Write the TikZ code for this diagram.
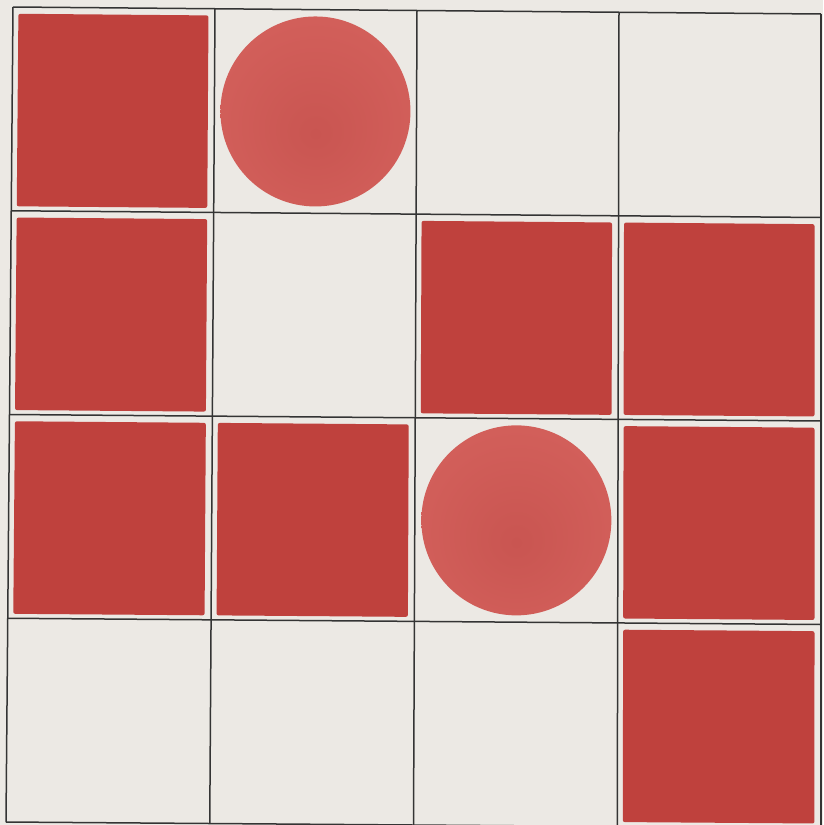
\documentclass[tikz,border=0pt]{standalone}
\definecolor{paper}{RGB}{236,233,228}
\definecolor{sqred}{RGB}{191,65,61}
\definecolor{discin}{RGB}{201,85,81}
\definecolor{discmid}{RGB}{211,96,91}
\definecolor{discout}{RGB}{222,112,105}
\definecolor{gridc}{RGB}{52,52,52}
\pgfdeclareradialshading{discshade}{\pgfpoint{0bp}{-6bp}}{color(0bp)=(discin); color(30bp)=(discmid); color(50bp)=(discout)}
\begin{document}
\begin{tikzpicture}[x=1pt,y=-1pt,
  declare function={
    px(\u,\v)=(1-\v/4)*(13+202*\u)+(\v/4)*(6+203.75*\u);
    py(\u,\v)=(1-\u/4)*(7+203.75*\v)+(\u/4)*(14+203.5*\v);
  },
  gridline/.style={draw=gridc,line width=1.5pt},
  redsquare/.style={fill=sqred,rounded corners=2pt},
  reddisc/.style={shading=discshade}]
\useasboundingbox (0,0) rectangle (823,825);
\fill[paper] (0,0) rectangle (823,825);
% squares: column/row
\foreach \c/\r in {0/0,0/1,2/1,3/1,0/2,1/2,3/2,3/3}{
  \path[redsquare]
    ({px(\c+0.027,\r+0.033)},{py(\c+0.027,\r+0.033)}) --
    ({px(\c+0.968,\r+0.033)},{py(\c+0.968,\r+0.033)}) --
    ({px(\c+0.968,\r+0.978)},{py(\c+0.968,\r+0.978)}) --
    ({px(\c+0.027,\r+0.978)},{py(\c+0.027,\r+0.978)}) -- cycle;
}
% discs
\foreach \c/\r in {1/0,2/2}{
  \shade[reddisc] ({px(\c+0.5,\r+0.5)},{py(\c+0.5,\r+0.5)}) circle[radius=95];
}
% grid
\foreach \i in {0,...,4}{
  \draw[gridline] ({px(\i,0)},{py(\i,0)}) -- ({px(\i,4)},{py(\i,4)});
  \draw[gridline] ({px(0,\i)},{py(0,\i)}) -- ({px(4,\i)},{py(4,\i)});
}
\end{tikzpicture}
\end{document}
